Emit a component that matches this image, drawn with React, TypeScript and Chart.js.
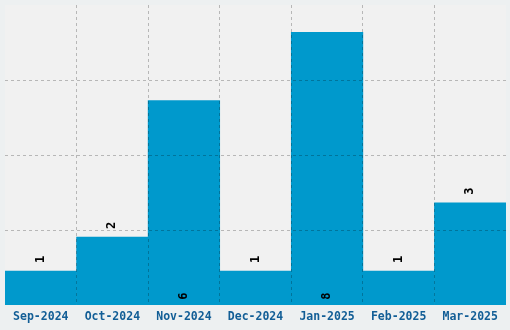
import React, { useEffect, useRef } from "react";
import { Chart, registerables } from "chart.js";

Chart.register(...registerables);

const categories = ["Sep-2024", "Oct-2024", "Nov-2024", "Dec-2024", "Jan-2025", "Feb-2025", "Mar-2025"];
const values = [1, 2, 6, 1, 8, 1, 3];
const yMax = 8.8;
const yStep = 2.2;

const BAR = "#0099cc";
const OUTER_BG = "#edf0f1";
const PLOT_BG = "#f1f1f1";
const TICK_COLOR = "#125e96";
const GRID = "rgba(0,0,0,0.24)";

const bgPlugin = {
  id: "bgPlugin",
  beforeDraw(chart: any) {
    const { ctx, chartArea } = chart;
    ctx.save();
    ctx.fillStyle = OUTER_BG;
    ctx.fillRect(0, 0, chart.width, chart.height);
    ctx.fillStyle = PLOT_BG;
    ctx.fillRect(chartArea.left, chartArea.top, chartArea.right - chartArea.left, chartArea.bottom - chartArea.top);
    ctx.restore();
  },
};

const labelPlugin = {
  id: "valueLabels",
  afterDraw(chart: any) {
    const { ctx } = chart;
    const meta = chart.getDatasetMeta(0);
    ctx.save();
    ctx.fillStyle = "#000000";
    ctx.font = "bold 12px 'DejaVu Sans Mono', monospace";
    ctx.textBaseline = "middle";
    ctx.textAlign = "left";
    meta.data.forEach((bar: any, i: number) => {
      const v = values[i];
      const inside = v >= 5;
      const y = inside ? bar.base - 5 : bar.y - 8;
      ctx.save();
      ctx.translate(bar.x, y);
      ctx.rotate(-Math.PI / 2);
      ctx.fillText(String(v), 0, 0);
      ctx.restore();
    });
    ctx.restore();
  },
};

export default function App() {
  const ref = useRef<HTMLCanvasElement | null>(null);
  useEffect(() => {
    if (!ref.current) return;
    const chart = new Chart(ref.current, {
      type: "bar",
      data: {
        labels: categories,
        datasets: [
          {
            data: values,
            backgroundColor: BAR,
            borderWidth: 0,
            barPercentage: 1,
            categoryPercentage: 1,
          },
        ],
      },
      options: {
        responsive: false,
        animation: false,
        layout: { padding: { left: 5, top: 5, right: 4, bottom: 1 } },
        plugins: { legend: { display: false }, tooltip: { enabled: false } },
        scales: {
          x: {
            border: { display: false, dash: [3, 3] },
            grid: {
              z: 1,
              drawTicks: false,
              color: (c: any) => (c.type !== "tick" || c.index === 0 ? "rgba(0,0,0,0)" : GRID),
              lineWidth: 1,
            },
            ticks: {
              color: TICK_COLOR,
              font: { family: "'DejaVu Sans Mono', monospace", size: 11.5, weight: "bold" },
              padding: 5,
              autoSkip: false,
              maxRotation: 0,
            },
          },
          y: {
            min: 0,
            max: yMax,
            border: { display: false, dash: [3, 3] },
            grid: {
              z: 1,
              drawTicks: false,
              color: (c: any) =>
                c.type !== "tick" || c.tick.value === 0 || Math.abs(c.tick.value - yMax) < 1e-6
                  ? "rgba(0,0,0,0)"
                  : GRID,
            },
            ticks: { display: false, stepSize: yStep },
          },
        },
      } as any,
      plugins: [bgPlugin, labelPlugin],
    });
    return () => chart.destroy();
  }, []);
  return (
    <div style={{ position: "fixed", left: 0, top: 0, width: 510, height: 330 }}>
      <canvas ref={ref} width={510} height={330} />
    </div>
  );
}
